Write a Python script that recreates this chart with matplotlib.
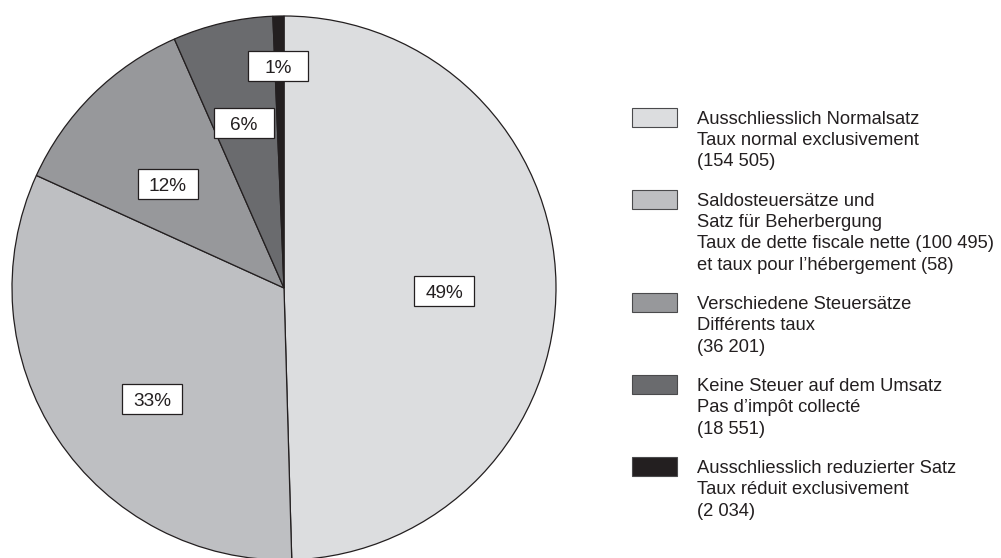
import matplotlib
matplotlib.use("Agg")
import matplotlib.pyplot as plt
from matplotlib.patches import Rectangle
import numpy as np

# ---------------- data ----------------
categories = [
    ["Ausschliesslich Normalsatz", "Taux normal exclusivement", "(154 505)"],
    ["Saldosteuersätze und", "Satz für Beherbergung",
     "Taux de dette fiscale nette (100 495)", "et taux pour l’hébergement (58)"],
    ["Verschiedene Steuersätze", "Différents taux", "(36 201)"],
    ["Keine Steuer auf dem Umsatz", "Pas d’impôt collecté", "(18 551)"],
    ["Ausschliesslich reduzierter Satz", "Taux réduit exclusivement", "(2 034)"],
]
values = [154505, 100553, 36201, 18551, 2034]
pct_labels = ["49%", "33%", "12%", "6%", "1%"]

# ---------------- style ----------------
colors = ["#dcdddf", "#bebfc2", "#97989b", "#6a6b6e", "#231f20"]
ink = "#231f20"
font = ["Liberation Sans", "DejaVu Sans"]
fs = 13.2
fs_pct = 13.7

# label placement: radial fraction and angular offset (deg) from wedge middle
label_r = [0.59, 0.634, 0.573, 0.625, 0.816]
label_dang = [-1.9, 6.4, 3.7, 0.5, 0.3]

W, H = 1001, 558
fig = plt.figure(figsize=(W / 100, H / 100), dpi=100)

# overlay axes in pixel coordinates for the legend
lax = fig.add_axes([0, 0, 1, 1])
lax.set_xlim(0, W)
lax.set_ylim(H, 0)
lax.axis("off")

cx, cy, R = 284, 288, 272
ax = fig.add_axes([(cx - R) / W, (H - cy - R) / H, 2 * R / W, 2 * R / H])
wedges, _ = ax.pie(values, colors=colors, startangle=90, counterclock=False,
                   radius=1, wedgeprops=dict(edgecolor=ink, linewidth=0.9))
ax.set_xlim(-1, 1)
ax.set_ylim(-1, 1)
ax.set_aspect("equal")
ax.axis("off")

bw, bh = 60 / R, 30 / R
for w, lab, r, da in zip(wedges, pct_labels, label_r, label_dang):
    mid = np.deg2rad((w.theta1 + w.theta2) / 2 + da)
    x, y = r * np.cos(mid), r * np.sin(mid)
    ax.add_patch(Rectangle((x - bw / 2, y - bh / 2), bw, bh, facecolor="white",
                           edgecolor=ink, linewidth=0.9, zorder=5))
    ax.annotate(lab, xy=(x, y), xytext=(0, -4.9), textcoords="offset points",
                ha="center", va="baseline", fontsize=fs_pct, family=font,
                color=ink, zorder=6)

# legend
line_h, gap = 21.5, 17.5
y0 = 117
for lines, col in zip(categories, colors):
    lax.add_patch(Rectangle((632, y0 - 9.5), 45, 19, facecolor=col,
                            edgecolor="#4a4a4c", linewidth=0.8))
    for i, t in enumerate(lines):
        lax.text(697, y0 + i * line_h + 6.5, t, ha="left", va="baseline",
                 fontsize=fs, family=font, color=ink)
    y0 += len(lines) * line_h + gap

fig.savefig("out.png", dpi=100)
